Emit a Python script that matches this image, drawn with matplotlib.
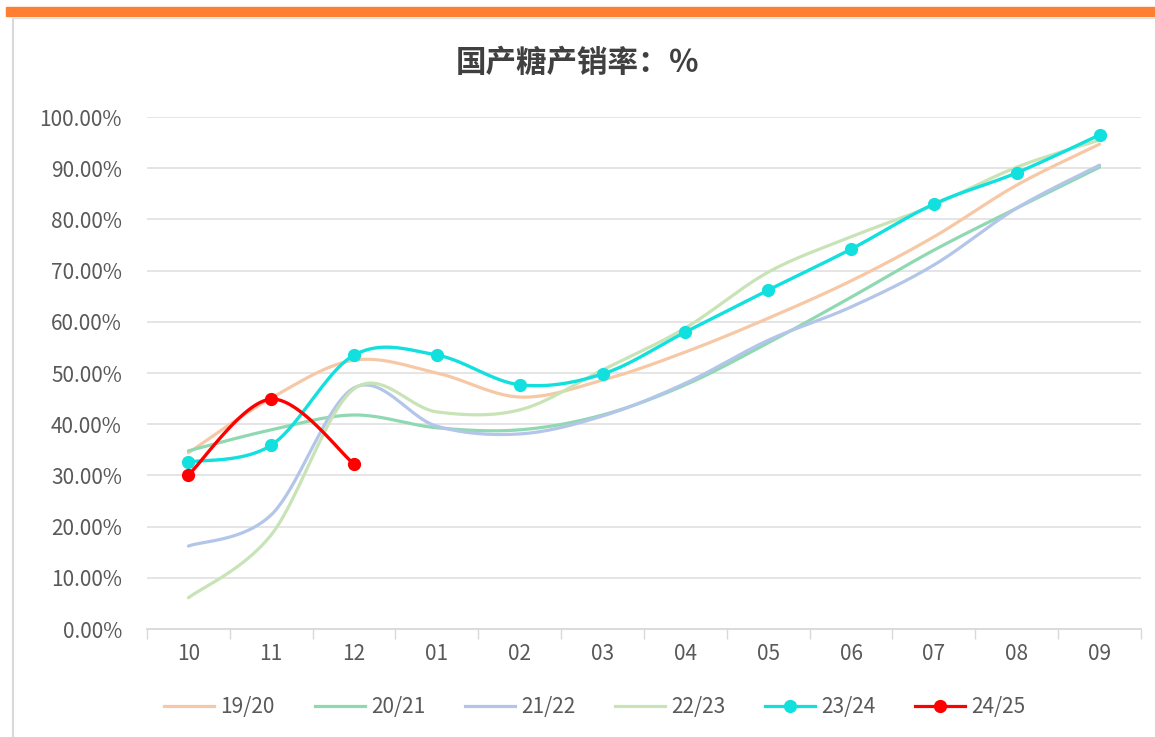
import numpy as np
import matplotlib.pyplot as plt
from matplotlib.patches import Rectangle
from matplotlib.lines import Line2D

plt.rcParams['font.family'] = ['Noto Sans CJK SC', 'DejaVu Sans']

months = ['10', '11', '12', '01', '02', '03', '04', '05', '06', '07', '08', '09']

# 产销率 (%)
s1920 = [34.4, 45.1, 52.5, 50.0, 45.3, 48.6, 54.1, 60.7, 68.0, 76.6, 86.7, 94.7]
s2021 = [34.8, 38.9, 41.8, 39.3, 38.9, 41.8, 47.7, 55.9, 64.8, 74.0, 82.2, 90.2]
s2122 = [16.2, 22.3, 47.1, 39.6, 38.1, 41.6, 48.0, 56.4, 62.9, 71.1, 82.2, 90.6]
s2223 = [6.1, 18.4, 46.9, 42.4, 42.8, 50.6, 58.8, 69.7, 76.6, 82.8, 90.2, 95.5]
s2324 = [32.6, 35.9, 53.5, 53.5, 47.7, 49.8, 58.0, 66.2, 74.2, 83.0, 89.1, 96.5]
s2425 = [30.1, 44.9, 32.2]

labels = ['19/20', '20/21', '21/22', '22/23', '23/24', '24/25']
colors = ['#F6C8A6', '#8FD9B2', '#B3C5E8', '#C8E3B5', '#12E0DE', '#FF0000']


def smooth(x, y, n=40):
    # Bezier smoothing through the points (catmull-rom style control points)
    x = np.asarray(x, float)
    y = np.asarray(y, float)
    if len(x) < 3:
        return x, y
    px = np.concatenate([[x[0]], x, [x[-1]]])
    py = np.concatenate([[y[0]], y, [y[-1]]])
    xs, ys = [], []
    t = np.linspace(0, 1, n)
    for i in range(1, len(px) - 2):
        p0 = np.array([px[i], py[i]])
        p3 = np.array([px[i + 1], py[i + 1]])
        p1 = p0 + (np.array([px[i + 1], py[i + 1]]) - np.array([px[i - 1], py[i - 1]])) / 6
        p2 = p3 - (np.array([px[i + 2], py[i + 2]]) - np.array([px[i], py[i]])) / 6
        b = ((1 - t) ** 3)[:, None] * p0 + (3 * (1 - t) ** 2 * t)[:, None] * p1 \
            + (3 * (1 - t) * t ** 2)[:, None] * p2 + (t ** 3)[:, None] * p3
        xs.append(b[:, 0])
        ys.append(b[:, 1])
    return np.concatenate(xs), np.concatenate(ys)


fig = plt.figure(figsize=(11.55, 7.37), dpi=100)
fig.patches.append(Rectangle((6 / 1155, 1 - 16 / 737), 1, 9 / 737, transform=fig.transFigure,
                             color='#FF7F32', zorder=0))
fig.add_artist(Line2D([13 / 1155, 13 / 1155], [0, 1 - 19 / 737], transform=fig.transFigure,
                      color='#D9D9D9', lw=1.5))
fig.add_artist(Line2D([13 / 1155, 1], [1 - 18 / 737, 1 - 18 / 737], transform=fig.transFigure,
                      color='#E0E0E0', lw=1))

ax = fig.add_axes([147 / 1155, 108 / 737, 994 / 1155, 512 / 737])
x = np.arange(len(months))

for data, lab, col in zip([s1920, s2021, s2122, s2223], labels[:4], colors[:4]):
    sx, sy = smooth(x[:len(data)], data)
    ax.plot(sx, sy, color=col, lw=2.3, solid_capstyle='round', zorder=2)

for data, col, z in [(s2324, colors[4], 3), (s2425, colors[5], 4)]:
    sx, sy = smooth(x[:len(data)], data)
    ax.plot(sx, sy, color=col, lw=2.4, zorder=z)
    ax.plot(x[:len(data)], data, 'o', color=col, ms=8.5, zorder=z)

ax.set_xlim(-0.5, 11.5)
ax.set_ylim(0, 100)
ax.set_yticks(np.arange(0, 101, 10))
ax.set_yticklabels([f'{v:.2f}%' for v in np.arange(0, 101, 10)])
ax.set_xticks(x)
ax.set_xticklabels(months)
ax.set_xticks(np.arange(-0.5, 12, 1), minor=True)
ax.tick_params(axis='x', which='major', length=0, pad=10, labelsize=15, labelcolor='#595959')
ax.tick_params(axis='x', which='minor', length=7, color='#D9D9D9', width=1)
ax.tick_params(axis='y', length=0, pad=18, labelsize=15, labelcolor='#595959')
ax.grid(axis='y', color='#E3E3E3', lw=1.3, zorder=0)
for side in ['top', 'right', 'left']:
    ax.spines[side].set_visible(False)
ax.spines['bottom'].set_color('#D9D9D9')
ax.spines['bottom'].set_linewidth(1.3)

fig.text(0.5, 1 - 63 / 737, '国产糖产销率：％', ha='center', va='center',
         fontsize=22, fontweight='bold', color='#404040')

handles = []
for i, (lab, col) in enumerate(zip(labels, colors)):
    mk = 'o' if i >= 4 else None
    handles.append(Line2D([], [], color=col, lw=2.3, marker=mk, ms=8.5, label=lab))
fig.legend(handles=handles, loc='center', bbox_to_anchor=(0.515, 1 - 707 / 737), ncol=6,
           frameon=False, fontsize=15, handlelength=2.4, handletextpad=0.3,
           columnspacing=1.9, labelcolor='#595959')

fig.savefig('out.png', dpi=100, facecolor='white')
